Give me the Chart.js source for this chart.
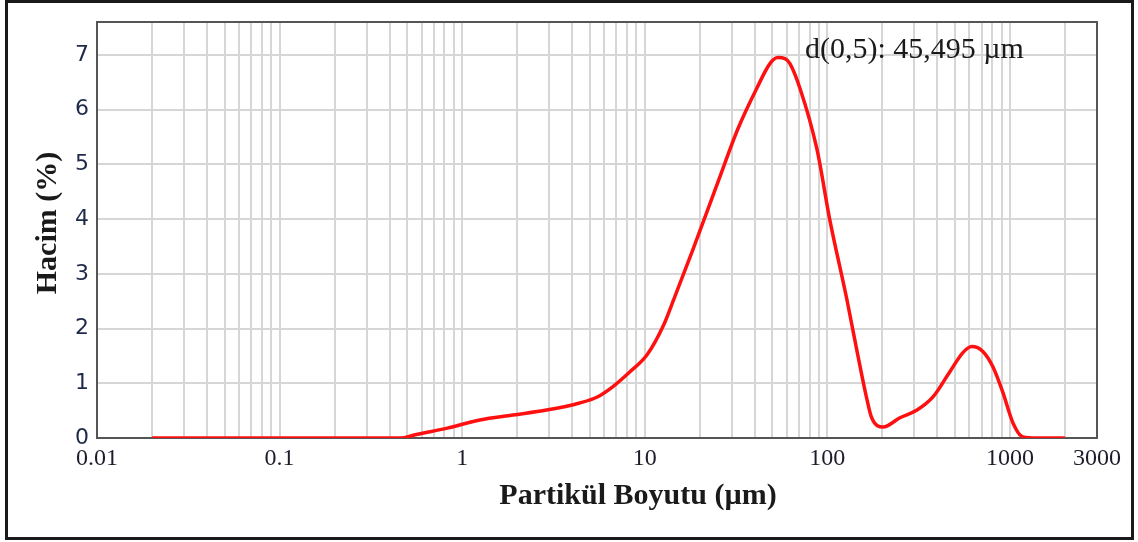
<!DOCTYPE html>
<html>
<head>
<meta charset="utf-8">
<script src="https://cdn.jsdelivr.net/npm/chart.js@4"></script>
<style>
  body { margin: 0; background: #fff; }
  #wrap { position: relative; width: 1138px; height: 542px; }
  #frame {
    position: absolute; left: 5px; top: 0px; width: 1129px; height: 540px;
    box-sizing: border-box; border: 3px solid #1a1a1a; pointer-events: none;
  }
</style>
</head>
<body>
<div id="wrap">
  <canvas id="Graph" width="1138" height="542"></canvas>
  <div id="frame"></div>
</div>
<script>
// particle size (µm) and volume (%)
const sizes = [0.02, 0.1, 0.3, 0.47, 0.54, 0.83, 1.25, 1.9, 2.9, 4.4, 5.5, 6.7, 8.3, 10.3, 12.6, 14.6,
               18.4, 25.2, 32.4, 41.1, 48.5, 53.6, 58.6, 62.4, 70.8, 87.7, 103, 128, 145, 165, 175,
               202, 250, 310, 379, 469, 553, 619, 711, 807, 916, 1038, 1178, 1400, 2000];
const volume = [0, 0, 0, 0, 0.05, 0.18, 0.33, 0.42, 0.51, 0.64, 0.75, 0.94, 1.21, 1.52, 2.04, 2.58,
                3.45, 4.68, 5.65, 6.39, 6.84, 6.95, 6.93, 6.84, 6.39, 5.28, 4.0, 2.53, 1.61, 0.70, 0.37,
                0.20, 0.37, 0.51, 0.75, 1.21, 1.56, 1.67, 1.58, 1.30, 0.83, 0.28, 0.02, 0, 0];

const xLabelValues = [0.01, 0.1, 1, 10, 100, 1000, 3000];
const xLabels = ['0.01', '0.1', '1', '10', '100', '1000', '3000'];
const yTicks = [0, 1, 2, 3, 4, 5, 6, 7];

const xTitle = 'Partikül Boyutu (µm)';
const yTitle = 'Hacim (%)';
const note = 'd(0,5): 45,495 µm';

// minor grid lines 1..9 per decade, up to 3000
let xGrid = [];
[0.01, 0.1, 1, 10, 100, 1000].forEach(d => {
    for (let k = 1; k <= 9; k++) {
        const v = +(d * k).toPrecision(3);
        if (v <= 3000) xGrid.push(v);
    }
});

const boxAndText = {
    id: 'boxAndText',
    beforeDatasetsDraw(chart) {
        const {ctx, chartArea: a} = chart;
        ctx.save();
        ctx.strokeStyle = '#555';
        ctx.lineWidth = 2;
        ctx.strokeRect(a.left, a.top, a.right - a.left, a.bottom - a.top);
        ctx.restore();
    },
    afterDraw(chart) {
        const {ctx, chartArea: a} = chart;
        ctx.save();
        ctx.fillStyle = '#1a1a1a';
        // annotation
        ctx.font = '30px "Liberation Serif"';
        ctx.textAlign = 'left';
        ctx.textBaseline = 'alphabetic';
        ctx.fillText(note, a.left + 708, a.top + 36);
        // x title
        ctx.font = 'bold 30px "Liberation Serif"';
        ctx.textAlign = 'center';
        ctx.textBaseline = 'middle';
        ctx.fillText(xTitle, (a.left + a.right) / 2 + 41, a.bottom + 58);
        // y title
        ctx.translate(48, (a.top + a.bottom) / 2 - 7);
        ctx.rotate(-Math.PI / 2);
        ctx.fillText(yTitle, 0, 0);
        ctx.restore();
    }
};

const ctx = document.getElementById('Graph').getContext('2d');
new Chart(ctx, {
    type: 'line',
    data: {
        datasets: [{
            data: sizes.map((s, i) => ({x: s, y: volume[i]})),
            borderColor: '#ff1010',
            borderWidth: 3.5,
            pointRadius: 0,
            fill: false,
            cubicInterpolationMode: 'monotone'
        }]
    },
    options: {
        responsive: false,
        animation: false,
        devicePixelRatio: 1,
        layout: { padding: { top: 22, right: 41, left: 0, bottom: 0 } },
        plugins: { legend: { display: false }, tooltip: { enabled: false } },
        scales: {
            x: {
                type: 'logarithmic',
                min: 0.01,
                max: 3000,
                afterBuildTicks: (scale) => { scale.ticks = xGrid.map(v => ({value: v})); },
                afterFit: (scale) => { scale.height = 104; },
                ticks: {
                    autoSkip: false,
                    maxRotation: 0,
                    padding: 6,
                    color: '#1c1c2c',
                    font: { family: 'Liberation Serif', size: 24 },
                    callback: (v) => {
                        const i = xLabelValues.findIndex(t => Math.abs(t - v) / t < 1e-6);
                        return i >= 0 ? xLabels[i] : '';
                    }
                },
                grid: { color: '#d6d6d6', lineWidth: 2, drawTicks: false },
                border: { display: false }
            },
            y: {
                min: 0,
                max: 7.6,
                afterBuildTicks: (scale) => { scale.ticks = yTicks.map(v => ({value: v})); },
                afterFit: (scale) => { scale.width = 97; },
                ticks: {
                    padding: 8,
                    color: '#1f2a48',
                    font: { family: 'DejaVu Sans', size: 22 }
                },
                grid: { color: '#d6d6d6', lineWidth: 2, drawTicks: false },
                border: { display: false }
            }
        }
    },
    plugins: [boxAndText]
});
</script>
</body>
</html>
